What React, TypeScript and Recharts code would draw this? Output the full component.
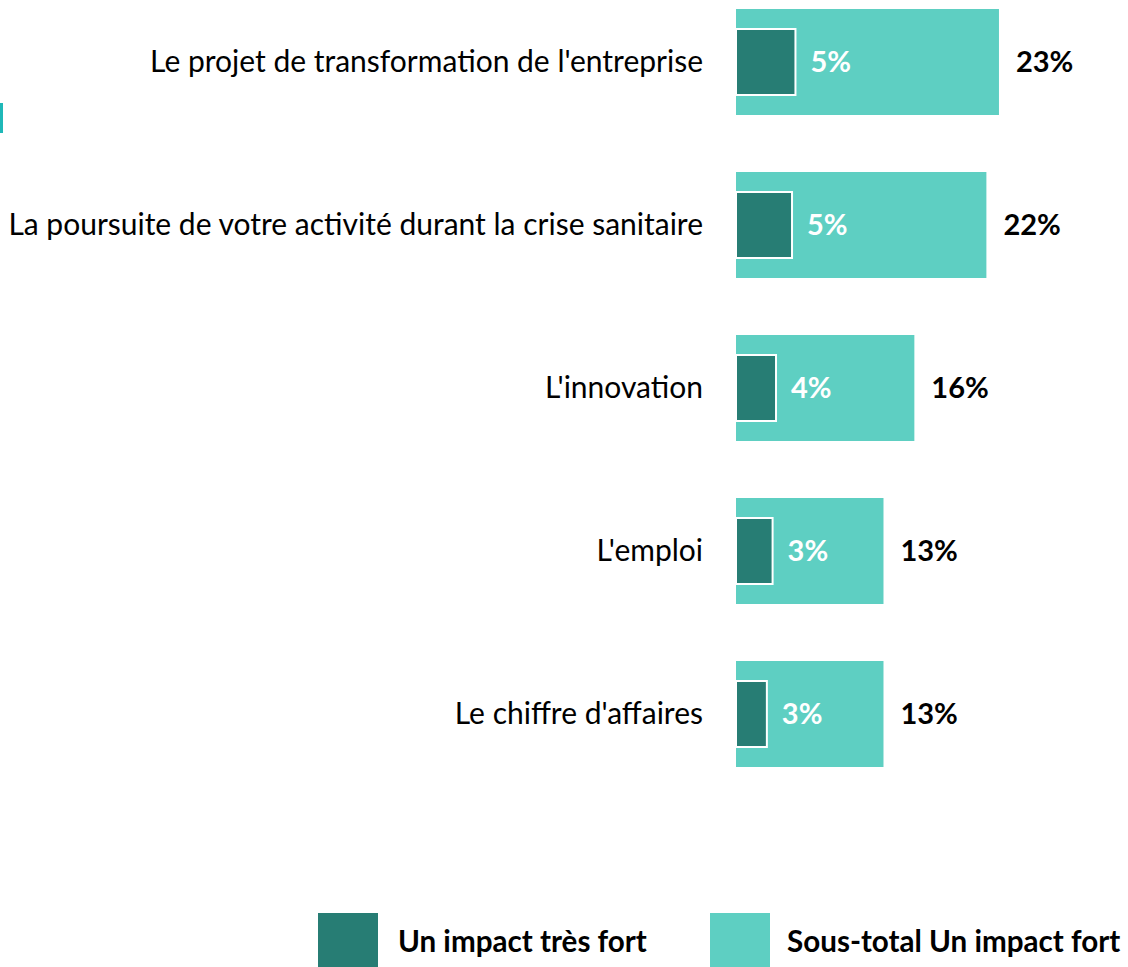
import React from 'react';
import { BarChart, Bar, XAxis, YAxis, LabelList } from 'recharts';

const categories = [
  "Le projet de transformation de l'entreprise",
  'La poursuite de votre activité durant la crise sanitaire',
  "L'innovation",
  "L'emploi",
  "Le chiffre d'affaires",
];
const sousTotalFort = [23.0, 21.9, 15.6, 12.9, 12.9];
const tresFort = [5.2, 4.9, 3.5, 3.2, 2.7];
const seriesNames = ['Un impact très fort', 'Sous-total Un impact fort'];
const seriesColors = ['#277d74', '#5ecfc2'];

const data = categories.map((name, i) => ({
  name,
  fort: sousTotalFort[i],
  tresFort: tresFort[i],
}));

const FONT = 'Lato, "Open Sans", sans-serif';
const pct = (v: any) => `${Math.round(Number(v))}%`;

export default function App() {
  return (
    <div
      style={{
        position: 'fixed',
        left: 0,
        top: 0,
        width: 1128,
        height: 967,
        background: '#fff',
        overflow: 'hidden',
        fontFamily: FONT,
      }}
    >
      {/* small accent mark on the left edge */}
      <div
        style={{
          position: 'absolute',
          left: 0,
          top: 103,
          width: 3,
          height: 30,
          background: '#1fb8b8',
        }}
      />
      <div style={{ position: 'absolute', left: 0, top: -20 }}>
        <BarChart
          width={1128}
          height={815}
          data={data}
          layout="vertical"
          margin={{ top: 0, right: 49, bottom: 0, left: 0 }}
        >
          <XAxis type="number" domain={[0, 30]} hide />
          <YAxis
            yAxisId="a"
            type="category"
            dataKey="name"
            width={736}
            axisLine={false}
            tickLine={false}
            tickSize={0}
            tickMargin={33}
            tick={{ fill: '#000', fontSize: 30, fontFamily: FONT }}
          />
          <YAxis yAxisId="b" type="category" dataKey="name" hide />
          <Bar
            yAxisId="a"
            dataKey="fort"
            name={seriesNames[1]}
            fill={seriesColors[1]}
            barSize={106}
            isAnimationActive={false}
          >
            <LabelList
              dataKey="fort"
              position="right"
              offset={17}
              formatter={pct}
              style={{ fill: '#000', fontWeight: 700, fontSize: 29, fontFamily: FONT }}
            />
          </Bar>
          <Bar
            yAxisId="b"
            dataKey="tresFort"
            name={seriesNames[0]}
            fill={seriesColors[0]}
            stroke="#fff"
            strokeWidth={2}
            barSize={66}
            isAnimationActive={false}
          >
            <LabelList
              dataKey="tresFort"
              position="right"
              offset={15}
              formatter={pct}
              style={{ fill: '#fff', fontWeight: 700, fontSize: 29, fontFamily: FONT }}
            />
          </Bar>
        </BarChart>
      </div>
      {seriesNames.map((n, i) => (
        <div
          key={n}
          style={{
            position: 'absolute',
            left: i === 0 ? 318 : 710,
            top: 913,
            display: 'flex',
            alignItems: 'center',
            height: 54,
          }}
        >
          <div style={{ width: 60, height: 54, background: seriesColors[i] }} />
          <span
            style={{
              marginLeft: i === 0 ? 20 : 17,
              fontSize: 29.6,
              fontWeight: 700,
              color: '#000',
              whiteSpace: 'nowrap',
            }}
          >
            {n}
          </span>
        </div>
      ))}
    </div>
  );
}
